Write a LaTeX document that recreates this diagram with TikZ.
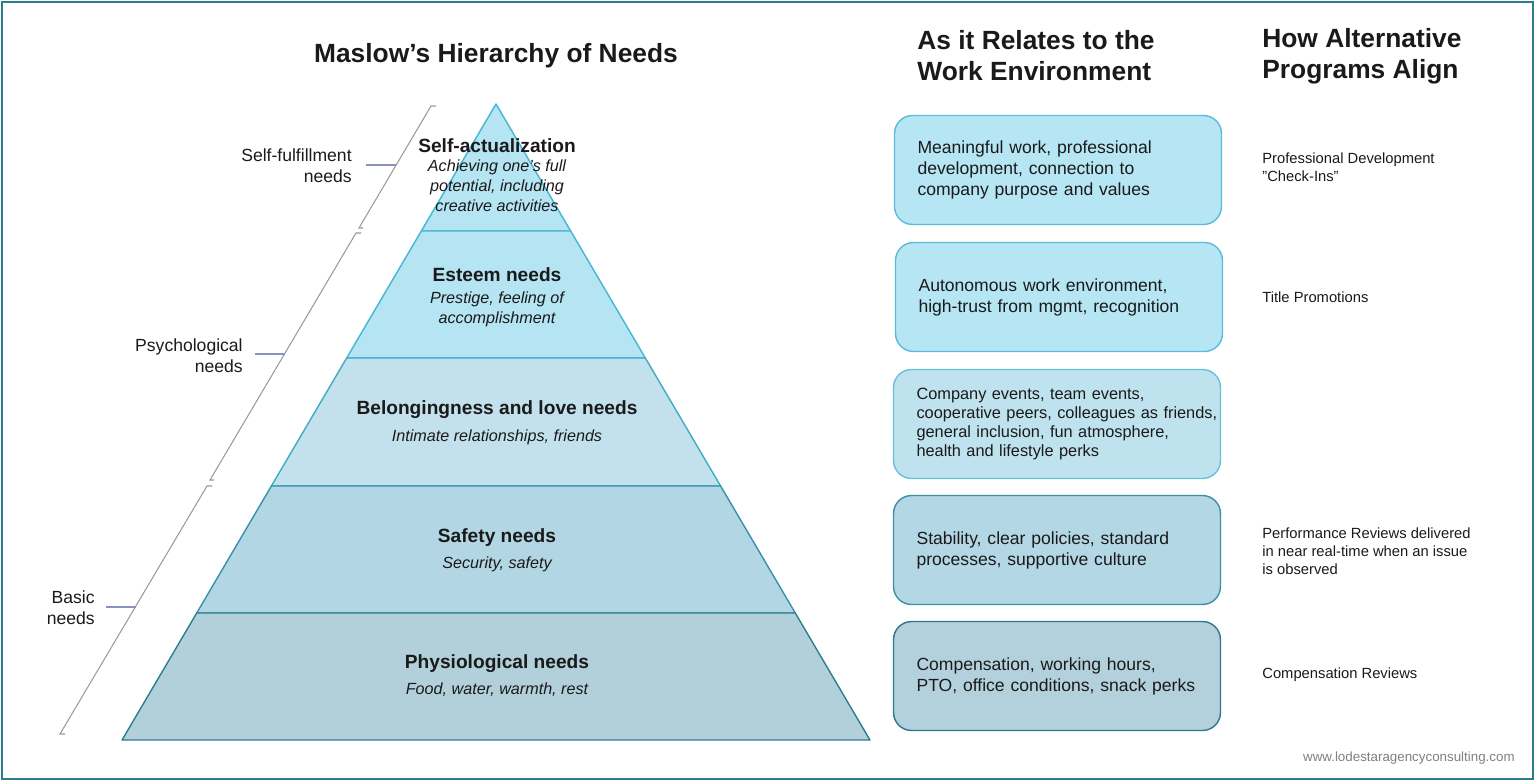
\documentclass[tikz,border=0pt]{standalone}
\usepackage{fontspec}
\setmainfont{Liberation Sans}
\definecolor{ink}{HTML}{1A1A1A}
\definecolor{frame}{HTML}{2E7D8A}
\definecolor{tierA}{HTML}{B5E4F3}
\definecolor{tierC}{HTML}{C3E1EC}
\definecolor{tierD}{HTML}{B2D6E3}
\definecolor{tierE}{HTML}{B2D0DA}
\definecolor{lineA}{HTML}{44B6D6}
\definecolor{lineC}{HTML}{3DAACA}
\definecolor{lineD}{HTML}{3592AA}
\definecolor{lineE}{HTML}{2D7E92}
\definecolor{boxA}{HTML}{B6E6F4}
\definecolor{boxC}{HTML}{BFE3EE}
\definecolor{boxD}{HTML}{B3D7E4}
\definecolor{boxE}{HTML}{B3D1DC}
\definecolor{boxlineA}{HTML}{5ABCDA}
\definecolor{boxlineC}{HTML}{66C1DA}
\definecolor{boxlineD}{HTML}{3E8EA5}
\definecolor{boxlineE}{HTML}{2F788C}
\definecolor{brkgray}{HTML}{9A9A9A}
\definecolor{leadblue}{HTML}{8A93C0}
\begin{document}
\begin{tikzpicture}[x=0.02cm,y=-0.02cm,
  heading/.style={font=\fontsize{15}{17.6}\selectfont\bfseries,text=ink,align=left,inner sep=0pt},
  lvl/.style={font=\fontsize{10.9}{13}\selectfont\bfseries,text=ink,inner sep=0pt},
  lvldesc/.style={font=\fontsize{9.2}{11.3}\selectfont\itshape,align=center,text=ink,inner sep=0pt},
  workbox/.style={rounded corners=0.36cm,line width=0.8pt,text width=5.62cm,inner xsep=0.46cm,
    minimum height=2.18cm,align=left,text=ink,font=\fontsize{10}{12}\selectfont},
  progtext/.style={anchor=west,align=left,inner sep=0pt,text=ink,font=\fontsize{8.4}{10.2}\selectfont},
  sidelab/.style={anchor=east,align=right,inner sep=0pt,text=ink,font=\fontsize{10}{12}\selectfont},
  brk/.style={brkgray,line width=0.6pt},
  leader/.style={leadblue,line width=0.6pt}]
\useasboundingbox (0,0) rectangle (1536,782);
\draw[frame,line width=1.4pt] (2,2) rectangle (1533,779);
\foreach \ya/\yb/\col/\lc in {104/231/tierA/lineA,231/358/tierA/lineA,358/486/tierC/lineC,486/613/tierD/lineD,613/740/tierE/lineE}
  \filldraw[fill=\col,draw=\lc,line width=0.8pt,line join=round] ({496-0.588*(\ya-104)},\ya) -- ({496+0.588*(\ya-104)},\ya) -- ({496+0.588*(\yb-104)},\yb) -- ({496-0.588*(\yb-104)},\yb) -- cycle;
\node[heading,align=center] (maslow) at (496,56) {Maslow’s Hierarchy of Needs};
\node[heading,anchor=west] (workhead) at (917,56) {As it Relates to the\\Work Environment};
\node[heading,anchor=west] (proghead) at (1262,56) {How Alternative\\Programs Align};
\node[lvl] (lvl1) at (497,146) {Self-actualization};
\node[lvldesc] (lvl1d) at (497,186) {Achieving one’s full\\potential, including\\creative activities};
\node[lvl] (lvl2) at (497,275) {Esteem needs};
\node[lvldesc] (lvl2d) at (497,309) {Prestige, feeling of\\accomplishment};
\node[lvl] (lvl3) at (497,410) {Belongingness and love needs};
\node[lvldesc] (lvl3d) at (497,437) {Intimate relationships, friends};
\node[lvl] (lvl4) at (497,538) {Safety needs};
\node[lvldesc] (lvl4d) at (497,564) {Security, safety};
\node[lvl] (lvl5) at (497,664) {Physiological needs};
\node[lvldesc] (lvl5d) at (497,690) {Food, water, warmth, rest};
\draw[brk] (436,106) -- (431,106) -- (359,228) -- (363,228);
\draw[brk] (361,233) -- (356,233) -- (210,480) -- (214,480);
\draw[brk] (212,486) -- (207,486) -- (60,734) -- (65,734);
\coordinate (ld1) at (366,165); \coordinate (bk1) at (396,165);
\coordinate (ld2) at (255,354); \coordinate (bk2) at (285,354);
\coordinate (ld3) at (106,607); \coordinate (bk3) at (136,607);
\draw[leader] (ld1) -- (bk1);
\draw[leader] (ld2) -- (bk2);
\draw[leader] (ld3) -- (bk3);
\node[sidelab] (side1) at (352,166) {Self-fulfillment\\needs};
\node[sidelab] (side2) at (243,356) {Psychological\\needs};
\node[sidelab] (side3) at (95,608) {Basic\\needs};
\node[workbox,fill=boxA,draw=boxlineA] (box1) at (1058,170) {Meaningful work, professional\\development, connection to\\company purpose and values};
\node[workbox,fill=boxA,draw=boxlineA] (box2) at (1059,297) {Autonomous work environment,\\high-trust from mgmt, recognition};
\node[workbox,fill=boxC,draw=boxlineC,font=\fontsize{9.3}{10.7}\selectfont] (box3) at (1057,424) {Company events, team events,\\\mbox{cooperative peers, colleagues as friends,}\\general inclusion, fun atmosphere,\\health and lifestyle perks};
\node[workbox,fill=boxD,draw=boxlineD] (box4) at (1057,550) {Stability, clear policies, standard\\processes, supportive culture};
\node[workbox,fill=boxE,draw=boxlineE] (box5) at (1057,676) {Compensation, working hours,\\PTO, office conditions, snack perks};
\node[progtext] (prog1) at (1262,167) {Professional Development\\”Check-Ins”};
\node[progtext] (prog2) at (1262,297) {Title Promotions};
\node[progtext] (prog4) at (1262,551) {Performance Reviews delivered\\in near real-time when an issue\\is observed};
\node[progtext] (prog5) at (1262,675) {Compensation Reviews};
\node[anchor=east,inner sep=0pt,text=gray,font=\fontsize{7.6}{9}\selectfont] (site) at (1515,758) {www.lodestaragencyconsulting.com};
\end{tikzpicture}
\end{document}
